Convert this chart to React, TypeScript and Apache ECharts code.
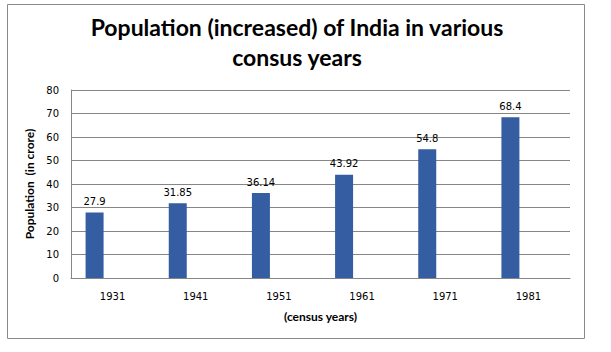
import React, { useEffect, useRef } from "react";
import * as echarts from "echarts";

const categories = ["1931", "1941", "1951", "1961", "1971", "1981"];
const population = [27.9, 31.85, 36.14, 43.92, 54.8, 68.4];
const emptySeries = [null, null, null, null, null, null];
const yTicks = { min: 0, max: 80, interval: 10 };

export default function App() {
  const ref = useRef<HTMLDivElement>(null);
  useEffect(() => {
    document.body.style.margin = "0";
    const chart = echarts.init(ref.current!, null, { renderer: "svg" });
    chart.setOption({
      animation: false,
      backgroundColor: "#ffffff",
      title: {
        text: "Population (increased) of India in various\nconsus years",
        left: 292,
        textAlign: "center",
        top: 7,
        textStyle: {
          fontFamily: "Lato",
          fontWeight: "bold",
          fontSize: 23,
          lineHeight: 30,
          color: "#000000",
        },
      },
      graphic: [
        {
          type: "rect",
          shape: { x: 7.5, y: 4.5, width: 577, height: 334 },
          style: { fill: "none", stroke: "#8a8a8a", lineWidth: 1 },
          silent: true,
        },
      ],
      grid: { left: 71, right: 41, top: 90, bottom: 74, containLabel: false },
      xAxis: {
        type: "category",
        data: categories,
        axisLine: { lineStyle: { color: "#868686" } },
        axisTick: { show: false },
        axisLabel: {
          fontFamily: "DejaVu Sans",
          fontSize: 10,
          color: "#000000",
          margin: 13,
        },
        name: "(census years)",
        nameLocation: "middle",
        nameGap: 32,
        nameTextStyle: {
          fontFamily: "Lato",
          fontWeight: "bold",
          fontSize: 12,
          color: "#000000",
        },
      },
      yAxis: {
        type: "value",
        min: yTicks.min,
        max: yTicks.max,
        interval: yTicks.interval,
        axisLine: { show: true, lineStyle: { color: "#868686" } },
        axisTick: { show: false },
        splitLine: { lineStyle: { color: "#868686" } },
        axisLabel: {
          fontFamily: "DejaVu Sans",
          fontSize: 10,
          color: "#000000",
          margin: 12,
        },
        name: "Population  (in crore)",
        nameLocation: "middle",
        nameGap: 29,
        nameTextStyle: {
          fontFamily: "Lato",
          fontWeight: "bold",
          fontSize: 12,
          color: "#000000",
        },
      },
      series: [
        {
          type: "bar",
          data: population,
          barWidth: 18,
          barGap: "100%",
          itemStyle: { color: "#355DA1" },
          label: {
            show: true,
            position: "top",
            distance: 6,
            fontFamily: "DejaVu Sans",
            fontSize: 10,
            color: "#000000",
          },
        },
        {
          type: "bar",
          data: emptySeries,
          barWidth: 18,
          barGap: "100%",
        },
      ],
    });
    return () => chart.dispose();
  }, []);
  return (
    <div
      ref={ref}
      style={{ position: "absolute", left: 0, top: 0, width: 611, height: 352 }}
    />
  );
}
